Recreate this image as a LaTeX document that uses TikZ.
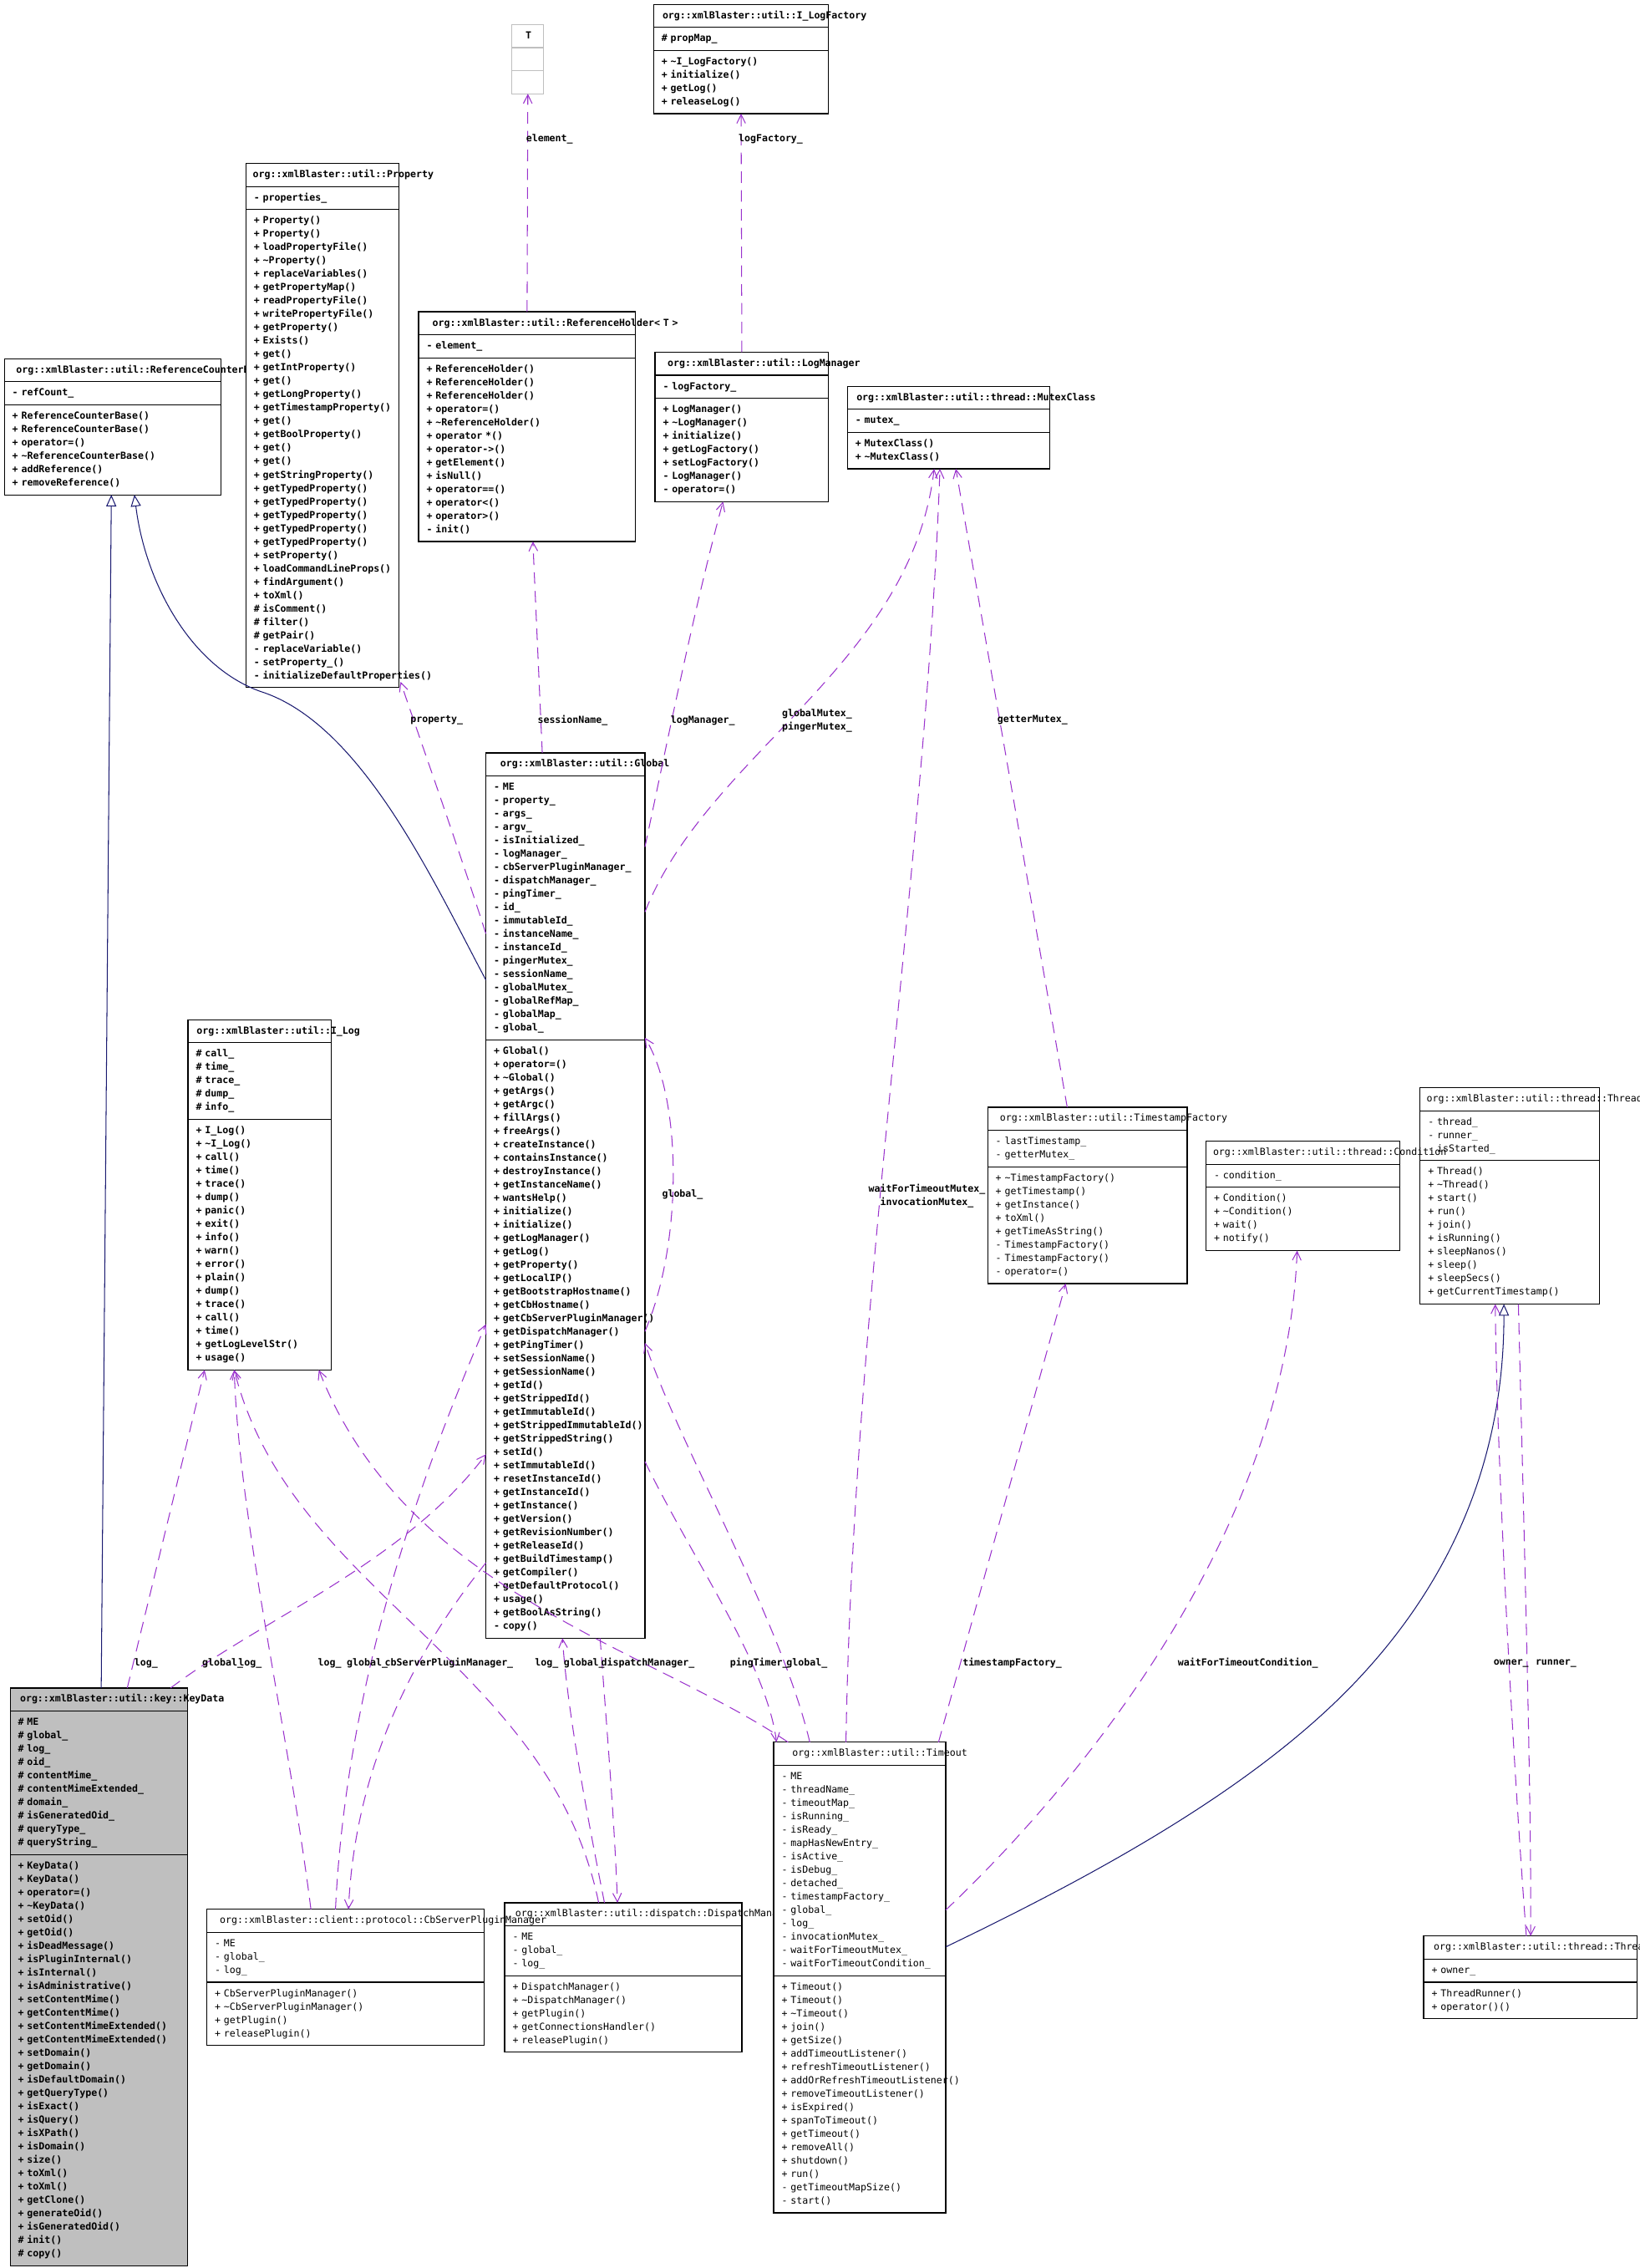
\documentclass[tikz,border=0pt]{standalone}
\usepackage{fontspec}
\usetikzlibrary{arrows.meta,calc,positioning,shapes.multipart}
\newfontfamily\clsfont{DejaVu Sans Mono}
\definecolor{CollabPurple}{RGB}{154,50,205}
\definecolor{InheritBlue}{RGB}{25,25,112}
\definecolor{KeyGray}{RGB}{191,191,191}
\newlength\ttlw
\newcommand\ctitle[1]{\settowidth\ttlw{#1}\hspace*{\dimexpr0.5\hsize-0.385\ttlw\relax}\rlap{#1}\strut}
\newcommand\tild{\textasciitilde}
\hyphenpenalty=10000
\exhyphenpenalty=10000
\tikzset{
  cls/.style={rectangle split, rectangle split parts=3, draw=black, fill=white, line width=0.7pt,
    anchor=north west, outer sep=0pt, inner xsep=5.5pt, inner ysep=3pt, align=left,
    text width=#1pt, font={\fontsize{6.7}{9.25}\clsfont\bfseries}},
  lightface/.style={font={\fontsize{6.7}{9.25}\clsfont\mdseries}},
  uses/.style={draw=CollabPurple, line width=0.6pt, dash pattern=on 8pt off 5pt,
    -{Straight Barb[length=6pt,width=6pt]}},
  inherits/.style={draw=InheritBlue, line width=0.6pt, -{Triangle[open,length=8pt,width=7pt]}},
  elabel/.style={font={\fontsize{6.7}{9.25}\clsfont\bfseries}, inner sep=0pt, align=center}
}
\begin{document}
\begin{tikzpicture}[x=1pt,y=-1pt]
\useasboundingbox (0,0) rectangle (1134,1568);
\fill[white] (0,0) rectangle (1134,1568);

% top row
\node[cls=11, draw=KeyGray] (tclass) at (354,17) {\ctitle{T}\nodepart{two}\strut\nodepart{three}\strut};
\node[cls=110] (ilogfactory) at (452,3) {\ctitle{org::xmlBlaster::util::I\_LogFactory}
\nodepart{two}\strut\#~propMap\_\strut
\nodepart{three}\strut+~\tild I\_LogFactory()\\+~initialize()\\+~getLog()\\+~releaseLog()\strut};

% second row
\node[cls=139] (refcounter) at (3,248) {\ctitle{org::xmlBlaster::util::ReferenceCounterBase}
\nodepart{two}\strut-~refCount\_\strut
\nodepart{three}\strut+~ReferenceCounterBase()\\+~ReferenceCounterBase()\\+~operator=()\\+~\tild ReferenceCounterBase()\\+~addReference()\\+~removeReference()\strut};
\node[cls=95] (property) at (170,113) {\ctitle{org::xmlBlaster::util::Property}
\nodepart{two}\strut-~properties\_\strut
\nodepart{three}\strut+~Property()\\+~Property()\\+~loadPropertyFile()\\+~\tild Property()\\+~replaceVariables()\\+~getPropertyMap()\\+~readPropertyFile()\\+~writePropertyFile()\\+~getProperty()\\+~Exists()\\+~get()\\+~getIntProperty()\\+~get()\\+~getLongProperty()\\+~getTimestampProperty()\\+~get()\\+~getBoolProperty()\\+~get()\\+~get()\\+~getStringProperty()\\+~getTypedProperty()\\+~getTypedProperty()\\+~getTypedProperty()\\+~getTypedProperty()\\+~getTypedProperty()\\+~setProperty()\\+~loadCommandLineProps()\\+~findArgument()\\+~toXml()\\\#~isComment()\\\#~filter()\\\#~getPair()\\-~replaceVariable()\\-~setProperty\_()\\-~initializeDefaultProperties()\strut};
\node[cls=139] (refholder) at (289.5,215.5) {\ctitle{org::xmlBlaster::util::ReferenceHolder< T >}
\nodepart{two}\strut-~element\_\strut
\nodepart{three}\strut+~ReferenceHolder()\\+~ReferenceHolder()\\+~ReferenceHolder()\\+~operator=()\\+~\tild ReferenceHolder()\\+~operator~*()\\+~operator->()\\+~getElement()\\+~isNull()\\+~operator==()\\+~operator<()\\+~operator>()\\-~init()\strut};
\node[cls=109] (logmanager) at (453,243.5) {\ctitle{org::xmlBlaster::util::LogManager}
\nodepart{two}\strut-~logFactory\_\strut
\nodepart{three}\strut+~LogManager()\\+~\tild LogManager()\\+~initialize()\\+~getLogFactory()\\+~setLogFactory()\\-~LogManager()\\-~operator=()\strut};
\node[cls=129] (mutexclass) at (586,267) {\ctitle{org::xmlBlaster::util::thread::MutexClass}
\nodepart{two}\strut-~mutex\_\strut
\nodepart{three}\strut+~MutexClass()\\+~\tild MutexClass()\strut};

% middle
\node[cls=99] (global) at (336,520.5) {\ctitle{org::xmlBlaster::util::Global}
\nodepart{two}\strut-~ME\\-~property\_\\-~args\_\\-~argv\_\\-~isInitialized\_\\-~logManager\_\\-~cbServerPluginManager\_\\-~dispatchManager\_\\-~pingTimer\_\\-~id\_\\-~immutableId\_\\-~instanceName\_\\-~instanceId\_\\-~pingerMutex\_\\-~sessionName\_\\-~globalMutex\_\\-~globalRefMap\_\\-~globalMap\_\\-~global\_\strut
\nodepart{three}\strut+~Global()\\+~operator=()\\+~\tild Global()\\+~getArgs()\\+~getArgc()\\+~fillArgs()\\+~freeArgs()\\+~createInstance()\\+~containsInstance()\\+~destroyInstance()\\+~getInstanceName()\\+~wantsHelp()\\+~initialize()\\+~initialize()\\+~getLogManager()\\+~getLog()\\+~getProperty()\\+~getLocalIP()\\+~getBootstrapHostname()\\+~getCbHostname()\\+~getCbServerPluginManager()\\+~getDispatchManager()\\+~getPingTimer()\\+~setSessionName()\\+~getSessionName()\\+~getId()\\+~getStrippedId()\\+~getImmutableId()\\+~getStrippedImmutableId()\\+~getStrippedString()\\+~setId()\\+~setImmutableId()\\+~resetInstanceId()\\+~getInstanceId()\\+~getInstance()\\+~getVersion()\\+~getRevisionNumber()\\+~getReleaseId()\\+~getBuildTimestamp()\\+~getCompiler()\\+~getDefaultProtocol()\\+~usage()\\+~getBoolAsString()\\-~copy()\strut};
\node[cls=88] (ilog) at (130,705) {\ctitle{org::xmlBlaster::util::I\_Log}
\nodepart{two}\strut\#~call\_\\\#~time\_\\\#~trace\_\\\#~dump\_\\\#~info\_\strut
\nodepart{three}\strut+~I\_Log()\\+~\tild I\_Log()\\+~call()\\+~time()\\+~trace()\\+~dump()\\+~panic()\\+~exit()\\+~info()\\+~warn()\\+~error()\\+~plain()\\+~dump()\\+~trace()\\+~call()\\+~time()\\+~getLogLevelStr()\\+~usage()\strut};
\node[cls=127, lightface] (tsfactory) at (683,765.5) {\ctitle{org::xmlBlaster::util::TimestampFactory}
\nodepart{two}\strut-~lastTimestamp\_\\-~getterMutex\_\strut
\nodepart{three}\strut+~\tild TimestampFactory()\\+~getTimestamp()\\+~getInstance()\\+~toXml()\\+~getTimeAsString()\\-~TimestampFactory()\\-~TimestampFactory()\\-~operator=()\strut};
\node[cls=113, lightface] (thread) at (982,752) {\ctitle{org::xmlBlaster::util::thread::Thread}
\nodepart{two}\strut-~thread\_\\-~runner\_\\-~isStarted\_\strut
\nodepart{three}\strut+~Thread()\\+~\tild Thread()\\+~start()\\+~run()\\+~join()\\+~isRunning()\\+~sleepNanos()\\+~sleep()\\+~sleepSecs()\\+~getCurrentTimestamp()\strut};
\node[cls=123, lightface] (condition) at (834,789) {\ctitle{org::xmlBlaster::util::thread::Condition}
\nodepart{two}\strut-~condition\_\strut
\nodepart{three}\strut+~Condition()\\+~\tild Condition()\\+~wait()\\+~notify()\strut};

% bottom row
\node[cls=111.5, fill=KeyGray] (keydata) at (7,1167) {\ctitle{org::xmlBlaster::util::key::KeyData}
\nodepart{two}\strut\#~ME\\\#~global\_\\\#~log\_\\\#~oid\_\\\#~contentMime\_\\\#~contentMimeExtended\_\\\#~domain\_\\\#~isGeneratedOid\_\\\#~queryType\_\\\#~queryString\_\strut
\nodepart{three}\strut+~KeyData()\\+~KeyData()\\+~operator=()\\+~\tild KeyData()\\+~setOid()\\+~getOid()\\+~isDeadMessage()\\+~isPluginInternal()\\+~isInternal()\\+~isAdministrative()\\+~setContentMime()\\+~getContentMime()\\+~setContentMimeExtended()\\+~getContentMimeExtended()\\+~setDomain()\\+~getDomain()\\+~isDefaultDomain()\\+~getQueryType()\\+~isExact()\\+~isQuery()\\+~isXPath()\\+~isDomain()\\+~size()\\+~toXml()\\+~toXml()\\+~getClone()\\+~generateOid()\\+~isGeneratedOid()\\\#~init()\\\#~copy()\strut};
\node[cls=153, lightface] (dispatch) at (349,1315.5) {\ctitle{org::xmlBlaster::util::dispatch::DispatchManager}
\nodepart{two}\strut-~ME\\-~global\_\\-~log\_\strut
\nodepart{three}\strut+~DispatchManager()\\+~\tild DispatchManager()\\+~getPlugin()\\+~getConnectionsHandler()\\+~releasePlugin()\strut};
\node[cls=181, lightface] (cbplugin) at (143,1320) {\ctitle{org::xmlBlaster::client::protocol::CbServerPluginManager}
\nodepart{two}\strut-~ME\\-~global\_\\-~log\_\strut
\nodepart{three}\strut+~CbServerPluginManager()\\+~\tild CbServerPluginManager()\\+~getPlugin()\\+~releasePlugin()\strut};
\node[cls=108, lightface] (timeout) at (535,1204.5) {\ctitle{org::xmlBlaster::util::Timeout}
\nodepart{two}\strut-~ME\\-~threadName\_\\-~timeoutMap\_\\-~isRunning\_\\-~isReady\_\\-~mapHasNewEntry\_\\-~isActive\_\\-~isDebug\_\\-~detached\_\\-~timestampFactory\_\\-~global\_\\-~log\_\\-~invocationMutex\_\\-~waitForTimeoutMutex\_\\-~waitForTimeoutCondition\_\strut
\nodepart{three}\strut+~Timeout()\\+~Timeout()\\+~\tild Timeout()\\+~join()\\+~getSize()\\+~addTimeoutListener()\\+~refreshTimeoutListener()\\+~addOrRefreshTimeoutListener()\\+~removeTimeoutListener()\\+~isExpired()\\+~spanToTimeout()\\+~getTimeout()\\+~removeAll()\\+~shutdown()\\+~run()\\-~getTimeoutMapSize()\\-~start()\strut};
\node[cls=136.5, lightface] (threadrunner) at (984.5,1338.5) {\ctitle{org::xmlBlaster::util::thread::ThreadRunner}
\nodepart{two}\strut+~owner\_\strut
\nodepart{three}\strut+~ThreadRunner()\\+~operator()()\strut};

% inheritance
\draw[inherits] ($(keydata.north west)+(63,0)$) -- ($(refcounter.south west)+(74,0)$);
\draw[inherits] ($(global.north west)+(0,157)$) .. controls (300,610) and (250,500) .. (180,478)
  .. controls (130,460) and (100,400) .. ($(refcounter.south west)+(90,0)$);
\draw[inherits] ($(timeout.north east)+(0,141.5)$) .. controls (760,1295) and (870,1235) .. (940,1160)
  .. controls (1010,1085) and (1040,1000) .. ($(thread.south west)+(58,0)$);

% collaboration, upper part
\draw[uses] (refholder.north) -- (tclass.south);
\draw[uses] (logmanager.north) -- (ilogfactory.south);
\draw[uses] ($(global.north west)+(0,125)$) .. controls (315,580) and (290,510) .. ($(property.south east)+(1,-4)$);
\draw[uses] ($(global.north west)+(39,0)$) -- ($(refholder.south west)+(79,0)$);
\draw[uses] ($(global.north east)+(0,65)$) .. controls (460,520) and (480,420) .. ($(logmanager.south west)+(47,0)$);
\draw[uses] ($(global.north east)+(0,110)$) .. controls (490,520) and (630,460) .. ($(mutexclass.south west)+(60,0)$);
\draw[uses] ($(timeout.north west)+(50,0)$) .. controls (590,900) and (640,600) .. ($(mutexclass.south west)+(64,0)$);
\draw[uses] ($(tsfactory.north west)+(55,0)$) -- ($(mutexclass.south west)+(75,0)$);
\draw[uses] ($(global.north east)+(0,400)$) .. controls (472,860) and (472,760) .. ($(global.north east)+(0,197)$);

% collaboration, lower part
\draw[uses] ($(keydata.north west)+(81,0)$) -- ($(ilog.south west)+(11.5,0)$);
\draw[uses] ($(keydata.north west)+(111,0)$) .. controls (180,1120) and (280,1080) .. ($(global.north west)+(0,485)$);
\draw[uses] ($(cbplugin.north west)+(72,0)$) .. controls (200,1200) and (165,1050) .. ($(ilog.south west)+(32,0)$);
\draw[uses] ($(cbplugin.north west)+(89,0)$) .. controls (240,1150) and (300,1000) .. ($(global.north west)+(0,395)$);
\draw[uses] ($(global.north west)+(0,560)$) .. controls (280,1150) and (245,1230) .. ($(cbplugin.north west)+(98,0)$);
\draw[uses] ($(dispatch.north west)+(69,0)$) .. controls (405,1250) and (392,1180) .. ($(global.south west)+(53,0)$);
\draw[uses] ($(global.south west)+(79,0)$) .. controls (420,1200) and (425,1260) .. ($(dispatch.north west)+(78,0)$);
\draw[uses] ($(dispatch.north west)+(65,0)$) .. controls (380,1150) and (200,1100) .. ($(ilog.south west)+(32,0)$);
\draw[uses] ($(timeout.north west)+(10,0)$) .. controls (450,1140) and (280,1100) .. ($(ilog.south east)+(-8.5,0)$);
\draw[uses] ($(timeout.north west)+(25,0)$) .. controls (540,1120) and (470,1000) .. ($(global.north east)+(0,408)$);
\draw[uses] ($(global.north east)+(0,490)$) .. controls (480,1080) and (530,1150) .. ($(timeout.north west)+(2,0)$);
\draw[uses] ($(timeout.north east)+(-5,0)$) -- ($(tsfactory.south west)+(54,0)$);
\draw[uses] ($(timeout.north east)+(0,116)$) .. controls (760,1220) and (890,1050) .. ($(condition.south west)+(63,0)$);
\draw[uses] ($(thread.south west)+(68,0)$) .. controls (1055,1100) and (1059,1250) .. ($(threadrunner.north west)+(74,0)$);
\draw[uses] ($(threadrunner.north west)+(71,0)$) .. controls (1045,1200) and (1035,1000) .. ($(thread.south west)+(52,0)$);

% edge labels
\node[elabel] (lelement) at (380,96) {element\_};
\node[elabel] (llogfactory) at (533,96) {logFactory\_};
\node[elabel] (lproperty) at (302,498) {property\_};
\node[elabel] (lsession) at (396,498) {sessionName\_};
\node[elabel] (llogmanager) at (486,498) {logManager\_};
\node[elabel] (lglobalmutex) at (565,498) {globalMutex\_\\pingerMutex\_};
\node[elabel] (lgetter) at (714,498) {getterMutex\_};
\node[elabel] (lglobalself) at (472,826) {global\_};
\node[elabel] (lwaitmutex) at (641,827) {waitForTimeoutMutex\_\\invocationMutex\_};
\node[elabel] (lkeylog) at (101,1150) {log\_};
\node[elabel] (lkeyglobal) at (154,1150) {global\_};
\node[elabel] (ltimeoutlog) at (173,1150) {log\_};
\node[elabel] (lcblog) at (228,1150) {log\_};
\node[elabel] (lcbglobal) at (254,1150) {global\_};
\node[elabel] (lcbmanager) at (310.5,1150) {cbServerPluginManager\_};
\node[elabel] (ldisplog) at (378,1150) {log\_};
\node[elabel] (ldispglobal) at (404,1150) {global\_};
\node[elabel] (ldispmanager) at (448,1150) {dispatchManager\_};
\node[elabel] (lpingtimer) at (525,1150) {pingTimer\_};
\node[elabel] (ltimeoutglobal) at (558,1150) {global\_};
\node[elabel] (ltsfactory) at (700,1150) {timestampFactory\_};
\node[elabel] (lcondition) at (863,1150) {waitForTimeoutCondition\_};
\node[elabel] (lowner) at (1045,1150) {owner\_};
\node[elabel] (lrunner) at (1076,1150) {runner\_};
\end{tikzpicture}
\end{document}
